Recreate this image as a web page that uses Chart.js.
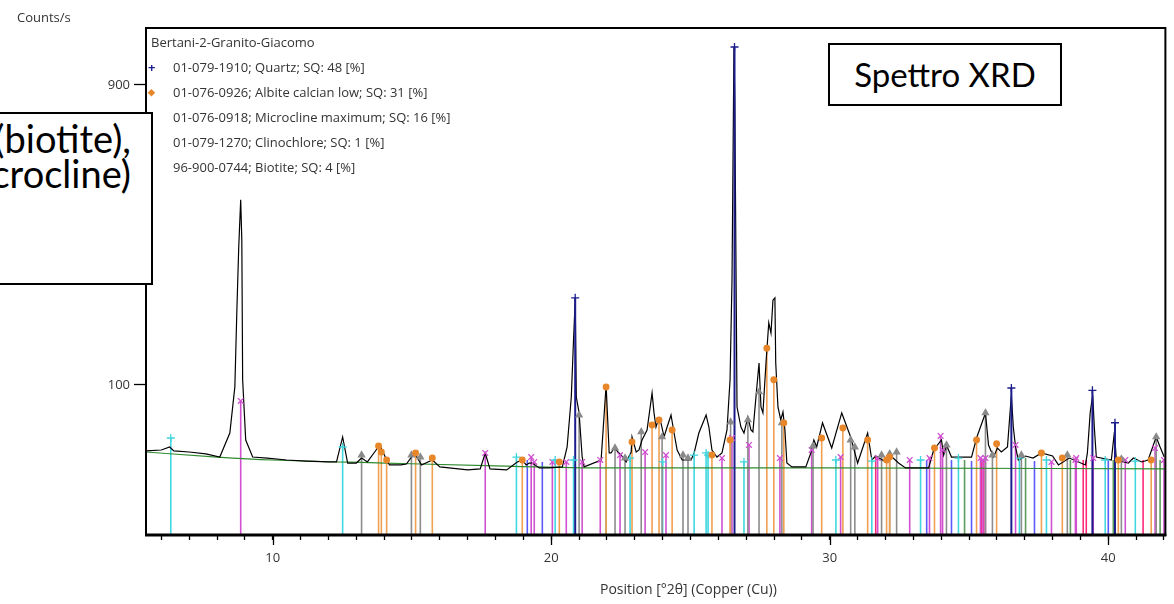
<!DOCTYPE html>
<html>
<head>
<meta charset="utf-8">
<script src="https://cdn.jsdelivr.net/npm/chart.js@4.4.1/dist/chart.umd.min.js"></script>
<style>
  html, body { margin: 0; padding: 0; background: #fff; }
  #wrap { position: relative; width: 1174px; height: 604px; overflow: hidden; background: #fff; }
  #chart { position: absolute; left: 0; top: 0; }
  .small { position: absolute; white-space: nowrap; font-family: "Open Sans", sans-serif; font-size: 13px; color: #333; line-height: 18px; }
  #countsLabel { left: 17px; top: 8px; }
  #xTitle { left: 600px; top: 580px; font-size: 14px; }
  .mark { position: absolute; left: -25px; font-weight: bold; }
  .box { position: absolute; box-sizing: border-box; background: #fff; border: 2px solid #000; font-family: Lato, sans-serif; color: #000; }
  #noteBox { left: -250px; top: 112px; width: 403px; height: 173px; text-align: right; padding: 7px 20px 0 0; font-size: 38px; line-height: 35px; }
  #xrdBox { left: 828px; top: 43px; width: 234px; height: 63px; text-align: center; font-size: 33px; line-height: 59px; }
</style>
</head>
<body>
<div id="wrap">
  <canvas id="chart" width="1174" height="604"></canvas>
  <div class="small" id="countsLabel">Counts/s</div>
  <div class="small" id="xTitle">Position [°2θ] (Copper (Cu))</div>
  <div class="small" style="left:151px;top:33px;">Bertani-2-Granito-Giacomo</div>
  <div class="small" style="left:173px;top:58px;"><span class="mark" style="color:#1c1c8c;">+</span>01-079-1910; Quartz; SQ: 48 [%]</div>
  <div class="small" style="left:173px;top:83px;"><span class="mark" style="color:#e8872a;font-size:9px;">◆</span>01-076-0926; Albite calcian low; SQ: 31 [%]</div>
  <div class="small" style="left:173px;top:108px;">01-076-0918; Microcline maximum; SQ: 16 [%]</div>
  <div class="small" style="left:173px;top:133px;">01-079-1270; Clinochlore; SQ: 1 [%]</div>
  <div class="small" style="left:173px;top:158px;">96-900-0744; Biotite; SQ: 4 [%]</div>
  <div class="box" id="noteBox">(biotite),<br>(microcline)</div>
  <div class="box" id="xrdBox">Spettro XRD</div>
</div>
<script>
// measured pattern: [position °2θ, counts/s]
const profilePoints = [
  [5.45, 31.4], [6.0, 32.1], [6.3, 34.4], [6.45, 31.4], [7.0, 30.6], [7.6, 29.2], [8.10, 27.0],
  [8.46, 46.2], [8.64, 97.4], [8.71, 219], [8.78, 369], [8.85, 499], [8.89, 387], [8.92, 107],
  [9.03, 40.1], [9.28, 27.0], [9.8, 26.3], [10.5, 25.0], [11.2, 24.3], [12.0, 23.7], [12.29, 23.7],
  [12.51, 42.7], [12.69, 23.0], [13.0, 23.0], [13.19, 26.3], [13.4, 23.7], [13.66, 30.6], [13.84, 36.0],
  [14.09, 25.0], [14.19, 21.8], [14.6, 21.8], [14.80, 22.4], [15.09, 29.9], [15.34, 21.8], [15.73, 25.0],
  [16.0, 20.6], [17.0, 18.8], [17.45, 19.4], [17.63, 29.9], [17.8, 19.4], [18.4, 18.8], [18.78, 23.7],
  [18.96, 25.0], [19.1, 21.8], [19.21, 23.0], [19.32, 23.0], [19.57, 20.0], [19.93, 20.0], [20.4, 20.6],
  [20.57, 34.4], [20.72, 84.6], [20.80, 169], [20.86, 245], [20.90, 84.6], [21.00, 66.2], [21.11, 27.0],
  [21.18, 20.6], [21.79, 25.0], [21.97, 100], [22.08, 29.9], [22.15, 29.9], [22.26, 33.6], [22.51, 28.4],
  [22.69, 23.7], [22.87, 30.6], [22.90, 42.7], [23.05, 30.6], [23.15, 32.1], [23.26, 40.1], [23.44, 49.0],
  [23.62, 89.6], [23.69, 66.2], [23.76, 51.8], [23.84, 58.8], [23.94, 55.8], [24.05, 42.7], [24.16, 51.8],
  [24.30, 64.0], [24.41, 46.2], [24.52, 32.1], [24.70, 25.0], [25.02, 25.0], [25.13, 29.9], [25.30, 46.2],
  [25.56, 64.0], [25.66, 51.8], [25.77, 32.1], [25.95, 27.0], [26.13, 29.9], [26.31, 49.0], [26.42, 107],
  [26.49, 289], [26.56, 1058], [26.59, 837], [26.67, 72.8], [26.81, 51.8], [26.92, 46.2], [27.06, 61.9],
  [27.17, 49.0], [27.24, 47.2], [27.35, 84.6], [27.46, 131.5], [27.53, 72.8], [27.60, 66.2], [27.71, 131.5],
  [27.81, 200], [27.89, 181], [27.96, 245], [28.03, 250], [28.06, 131.5], [28.14, 72.8], [28.24, 58.8],
  [28.32, 67.2], [28.39, 49.0], [28.46, 23.0], [28.64, 20.6], [29.14, 20.6], [29.32, 29.9], [29.43, 40.1],
  [29.53, 34.4], [29.74, 55.8], [30.07, 33.6], [30.43, 66.2], [30.75, 42.7], [31.00, 23.0], [31.36, 46.2],
  [31.51, 25.0], [31.65, 27.7], [32.01, 23.7], [32.11, 29.2], [32.47, 23.0], [32.72, 20.0], [33.55, 20.0],
  [33.73, 32.1], [34.01, 40.1], [34.09, 28.4], [34.19, 36.0], [34.37, 27.0], [35.09, 27.0], [35.27, 41.8],
  [35.59, 66.2], [35.70, 36.0], [35.88, 27.0], [36.02, 33.6], [36.16, 30.6], [36.38, 34.4], [36.52, 87.1],
  [36.59, 51.8], [36.67, 34.4], [36.77, 25.0], [37.03, 27.7], [37.3, 26.3], [37.60, 29.9], [38.0, 27.7],
  [38.21, 21.8], [38.6, 26.3], [39.18, 21.8], [39.25, 29.9], [39.35, 66.2], [39.44, 87.1], [39.50, 50.9],
  [39.57, 27.0], [40.11, 25.0], [40.22, 47.2], [40.29, 25.0], [40.72, 23.0], [40.9, 26.3], [41.2, 23.7],
  [41.43, 25.0], [41.72, 42.7], [41.86, 34.4], [42.01, 27.0]
];

// fitted background
const backgroundPos = [5.45, 8, 10, 14, 18, 22, 30, 42.05];
const backgroundCounts = [30.6, 27.0, 25.0, 23.0, 21.2, 20.0, 20.0, 19.4];

// reference patterns: stick positions (°2θ) and their heights (counts/s)
const quartzPos = [20.86, 26.58, 36.52, 39.43, 40.24];
const quartzCounts = [250, 1058, 96, 93, 56];

const albitePos = [13.80, 13.90, 14.09, 15.13, 15.73, 18.96, 20.29, 21.97, 22.90, 23.62, 23.87, 24.34, 25.77, 26.42,
  27.74, 27.99, 28.35, 29.71, 30.47, 31.36, 32.04, 32.15, 33.76, 35.27, 35.99, 37.60, 38.35, 40.36, 41.54];
const albiteCounts = [35.2, 30.6, 25.0, 29.9, 26.3, 25.0, 23.7, 97.4, 38.4, 53.8, 58.8, 49.0, 28.4, 40.1,
  155, 107, 55.8, 41.8, 50.9, 40.1, 25.0, 27.0, 33.6, 40.1, 37.0, 29.9, 26.3, 25.0, 25.0];

const microclinePos = [13.19, 14.98, 15.30, 21.00, 22.29, 22.65, 23.23, 23.98, 24.73, 24.91, 26.44, 27.06, 27.46, 28.28,
  29.40, 30.75, 30.90, 31.86, 32.15, 32.40, 34.19, 35.59, 35.84, 36.88, 38.53, 40.47, 41.72];
const microclineCounts = [28.4, 28.4, 27.0, 64.0, 33.6, 26.3, 47.2, 42.7, 28.4, 26.3, 56.7, 58.8, 90.9, 55.8,
  35.2, 40.1, 34.4, 28.4, 29.2, 30.6, 36.0, 66.2, 28.4, 28.4, 28.4, 25.6, 42.7];

const clinochlorePos = [6.34, 12.51, 18.75, 20.14, 20.80, 22.83, 24.00, 25.13, 25.56, 25.63, 26.92, 30.22, 31.51, 33.26,
  34.62, 36.81, 37.78, 39.89, 40.97];
const clinochloreCounts = [41.8, 34.4, 27.0, 25.0, 25.0, 26.3, 23.7, 28.4, 29.9, 28.4, 23.7, 25.0, 24.3, 25.0,
  26.3, 26.3, 25.0, 25.0, 24.3];

const biotitePos = [8.85, 17.63, 19.28, 19.39, 20.04, 20.54, 21.11, 21.76, 22.47, 23.37, 24.12, 26.13, 26.49, 27.10,
  28.21, 29.35, 30.39, 31.72, 32.87, 33.58, 33.98, 34.05, 35.41, 35.50, 35.59, 36.67, 37.96, 38.82, 38.85, 39.46,
  40.61, 41.68, 42.00];
const biotiteCounts = [79.8, 29.9, 27.0, 23.7, 23.7, 23.7, 23.7, 25.0, 28.4, 30.6, 28.4, 26.3, 41.8, 36.0,
  26.3, 32.1, 27.0, 26.3, 25.0, 26.3, 43.6, 32.1, 26.3, 25.0, 26.3, 36.0, 23.7, 25.0, 26.3, 26.3,
  25.0, 33.6, 25.0];

// extra stick colours seen in the lower band
const bluePos = [19.14, 19.68, 33.48, 34.37, 35.09, 37.35, 40.00];
const blueCounts = [25.0, 23.7, 25.0, 25.0, 24.3, 24.3, 25.0];
const greenPos = [21.97, 34.84, 37.03, 38.64, 40.18, 41.86];
const greenCounts = [30.0, 25.0, 26.3, 25.0, 25.0, 25.0];
const pinkPos = [31.65, 35.45, 35.53, 39.10, 39.21, 41.25];
const pinkCounts = [27.7, 25.0, 25.0, 25.0, 25.0, 25.0];

// axes
const xTickLabels = [10, 20, 30, 40];
const yTickLabels = [100, 900];
const xMin = 5.45, xMax = 42.05;
const yTopCounts = 1142;

// square-root intensity axis, like the original software
const sq = c => Math.sqrt(c);

function stickLines(xs, ys) {
  const out = [];
  xs.forEach((x, i) => {
    out.push({ x: x, y: 0 }, { x: x, y: sq(ys[i]) }, { x: x, y: null });
  });
  return out;
}

function sticks(xs, ys, color, width, order) {
  return {
    data: stickLines(xs, ys),
    borderColor: color,
    borderWidth: width,
    pointRadius: 0,
    spanGaps: false,
    order: order
  };
}

function markers(xs, ys, style, color, radius, filled) {
  return {
    data: xs.map((x, i) => ({ x: x, y: sq(ys[i]) })),
    showLine: false,
    pointStyle: style,
    pointRadius: radius,
    pointBorderColor: color,
    pointBackgroundColor: filled ? color : 'rgba(0,0,0,0)',
    pointBorderWidth: 1.3,
    order: 0
  };
}

const xMinorTicks = [];
for (let v = Math.ceil(xMin); v <= xMax; v++) xMinorTicks.push(v);

// frame round the plot and longer major ticks
const framePlugin = {
  id: 'frame',
  afterDraw(chart) {
    const { ctx, chartArea: a } = chart;
    const x = chart.scales.x;
    ctx.save();
    ctx.strokeStyle = '#000';
    ctx.lineWidth = 2;
    ctx.strokeRect(a.left, a.top, a.right - a.left, a.bottom - a.top);
    ctx.lineWidth = 3;
    ctx.beginPath();
    ctx.moveTo(a.left - 1, a.bottom);
    ctx.lineTo(a.right + 1, a.bottom);
    ctx.stroke();
    ctx.lineWidth = 1.3;
    xTickLabels.forEach(v => {
      const px = Math.round(x.getPixelForValue(v)) + 0.5;
      ctx.beginPath();
      ctx.moveTo(px, a.bottom);
      ctx.lineTo(px, a.bottom + 10);
      ctx.stroke();
    });
    ctx.restore();
  }
};

Chart.defaults.font.family = '"Open Sans", sans-serif';

new Chart(document.getElementById('chart'), {
  type: 'line',
  data: {
    datasets: [
      markers(quartzPos, quartzCounts, 'cross', '#1c1c8c', 4, false),
      markers(albitePos, albiteCounts, 'circle', '#e8872a', 2.8, true),
      markers(microclinePos, microclineCounts, 'triangle', '#8a8a8a', 3.5, true),
      markers(clinochlorePos, clinochloreCounts, 'cross', '#3fd3dc', 4, false),
      markers(biotitePos, biotiteCounts, 'crossRot', '#d04fd0', 4, false),
      sticks(quartzPos, quartzCounts, '#1c1c8c', 2, 1),
      {
        data: profilePoints.map(p => ({ x: p[0], y: sq(p[1]) })),
        borderColor: '#000',
        borderWidth: 1.2,
        pointRadius: 0,
        order: 2
      },
      {
        data: backgroundPos.map((x, i) => ({ x: x, y: sq(backgroundCounts[i]) })),
        borderColor: '#2f8a2f',
        borderWidth: 1.2,
        pointRadius: 0,
        cubicInterpolationMode: 'monotone',
        order: 3
      },
      sticks(albitePos, albiteCounts, '#f0a050', 1.6, 4),
      sticks(microclinePos, microclineCounts, '#8c8c8c', 1.6, 4),
      sticks(clinochlorePos, clinochloreCounts, '#40d8e0', 1.6, 4),
      sticks(biotitePos, biotiteCounts, '#d050d0', 1.6, 4),
      sticks(bluePos, blueCounts, '#5a5aff', 1.6, 5),
      sticks(greenPos, greenCounts, '#5f9a5f', 1.6, 5),
      sticks(pinkPos, pinkCounts, '#ff2a7a', 1.6, 5)
    ]
  },
  options: {
    responsive: false,
    animation: false,
    devicePixelRatio: 1,
    layout: { padding: { top: 28, right: 7, left: 0, bottom: 0 } },
    plugins: { legend: { display: false }, tooltip: { enabled: false } },
    elements: { line: { tension: 0 } },
    scales: {
      x: {
        type: 'linear',
        min: xMin,
        max: xMax,
        offset: false,
        border: { display: false },
        grid: { drawOnChartArea: false, drawTicks: true, tickLength: 5, tickColor: '#000', tickWidth: 1.3 },
        ticks: {
          autoSkip: false,
          maxRotation: 0,
          padding: 10,
          color: '#333',
          font: { size: 13 },
          callback: v => xTickLabels.includes(v) ? String(v) : ''
        },
        afterBuildTicks: axis => { axis.ticks = xMinorTicks.map(v => ({ value: v })); },
        afterFit: axis => { axis.height = 69; }
      },
      y: {
        type: 'linear',
        min: 0,
        max: sq(yTopCounts),
        border: { display: false },
        grid: { drawOnChartArea: false, tickLength: 12, tickColor: '#000', tickWidth: 1.3 },
        ticks: {
          padding: 4,
          color: '#333',
          font: { size: 13 },
          callback: v => String(Math.round(v * v))
        },
        afterBuildTicks: axis => { axis.ticks = yTickLabels.map(v => ({ value: sq(v) })); },
        afterFit: axis => { axis.width = 146; }
      }
    }
  },
  plugins: [framePlugin]
});
</script>
</body>
</html>
